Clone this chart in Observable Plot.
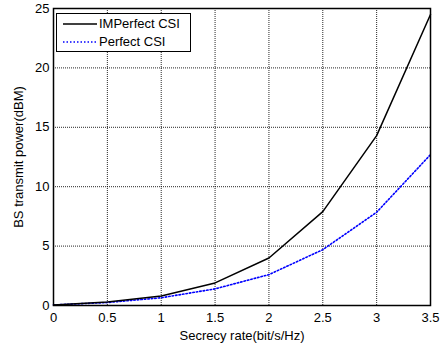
<!DOCTYPE html>
<html>
<head>
<meta charset="utf-8">
<script src="https://cdn.jsdelivr.net/npm/d3@7"></script>
<script src="https://cdn.jsdelivr.net/npm/@observablehq/plot@0.6"></script>
<style>
  html, body { margin: 0; padding: 0; background: #fff; }
  #wrap { position: relative; width: 447px; height: 345px; font-family: "Liberation Sans", Arial, sans-serif; }
  #legend { position: absolute; left: 56px; top: 13px; width: 135px; height: 39px; border: 1px solid #000; background: #fff; box-sizing: border-box; }
  .row { position: absolute; left: 0; font-size: 13px; }
  .row svg { position: absolute; left: 6px; }
  .row span { position: absolute; left: 42px; white-space: nowrap; }
</style>
</head>
<body>
<div id="wrap"></div>
<script>
const rates = [0, 0.5, 1, 1.5, 2, 2.5, 3, 3.5];
const imperfect = [0.05, 0.3, 0.8, 1.9, 4.0, 7.9, 14.3, 24.5];
const perfect = [0.05, 0.25, 0.65, 1.4, 2.6, 4.7, 7.85, 12.7];
const seriesNames = ["IMPerfect CSI", "Perfect CSI"];
const xTicks = [0, 0.5, 1, 1.5, 2, 2.5, 3, 3.5];
const yTicks = [0, 5, 10, 15, 20, 25];

const rowsImp = rates.map((x, i) => ({x, y: imperfect[i]}));
const rowsPer = rates.map((x, i) => ({x, y: perfect[i]}));

const chart = Plot.plot({
  width: 447,
  height: 345,
  marginLeft: 53,
  marginRight: 17,
  marginTop: 8,
  marginBottom: 40,
  style: {fontFamily: "'Liberation Sans', Arial, sans-serif", fontSize: "13px", color: "#000", background: "#fff"},
  x: {domain: [0, 3.5]},
  y: {domain: [0, 25]},
  marks: [
    Plot.gridX(xTicks, {stroke: "#000", strokeOpacity: 0.85, strokeDasharray: "1,1"}),
    Plot.gridY(yTicks, {stroke: "#000", strokeOpacity: 0.85, strokeDasharray: "1,1"}),
    Plot.axisX({ticks: xTicks, tickFormat: d => String(d), tickSize: 0, tickPadding: 7, label: "Secrecy rate(bit/s/Hz)", labelAnchor: "center", labelArrow: "none", labelOffset: 34, fill: "#000"}),
    Plot.axisY({ticks: yTicks, tickFormat: d => String(d), tickSize: 0, tickPadding: 4, label: "BS transmit power(dBM)", labelAnchor: "center", labelArrow: "none", labelOffset: 40, fill: "#000"}),
    Plot.line(rowsPer, {x: "x", y: "y", stroke: "blue", strokeWidth: 1.6, strokeDasharray: "1.5,2"}),
    Plot.line(rowsImp, {x: "x", y: "y", stroke: "#000", strokeWidth: 1.5}),
    Plot.frame({stroke: "#000", strokeWidth: 1.5})
  ]
});
const wrap = document.getElementById("wrap");
wrap.appendChild(chart);

const legend = document.createElement("div");
legend.id = "legend";
legend.innerHTML = `
  <div class="row" style="top:2px;height:16px;width:130px">
    <svg width="36" height="16"><line x1="0" x2="34" y1="8" y2="8" stroke="#000" stroke-width="1.5"/></svg>
    <span style="top:0px">${seriesNames[0]}</span>
  </div>
  <div class="row" style="top:20px;height:16px;width:130px">
    <svg width="36" height="16"><line x1="0" x2="34" y1="8" y2="8" stroke="blue" stroke-width="1.5" stroke-dasharray="1.5,2"/></svg>
    <span style="top:0px">${seriesNames[1]}</span>
  </div>`;
wrap.appendChild(legend);
</script>
</body>
</html>
